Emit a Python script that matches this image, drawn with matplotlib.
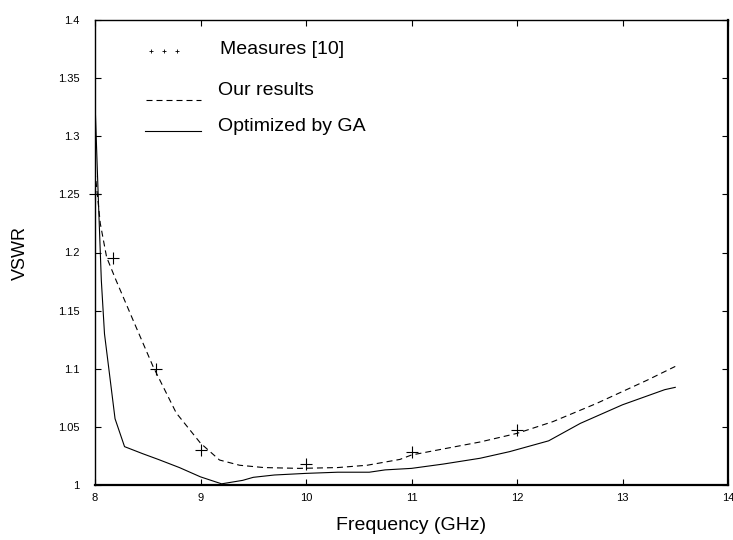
import matplotlib
matplotlib.use("Agg")
import matplotlib.pyplot as plt

plt.rcParams['font.family'] = ['Liberation Sans', 'DejaVu Sans']

# Measures [10]
meas_x = [8.0, 8.17, 8.58, 9.0, 10.0, 11.0, 12.0]
meas_y = [1.25, 1.195, 1.10, 1.03, 1.018, 1.028, 1.047]

# Our results (dashed)
ours_x = [8.0, 8.05, 8.11, 8.2, 8.28, 8.36, 8.55, 8.77, 9.0, 9.18, 9.37, 9.6,
          9.94, 10.3, 10.58, 10.89, 11.0, 11.3, 11.65, 12.0, 12.34, 12.75, 13.23, 13.5]
ours_y = [1.27, 1.225, 1.196, 1.176, 1.159, 1.142, 1.102, 1.062, 1.036, 1.0215, 1.017, 1.015,
          1.0143, 1.015, 1.017, 1.022, 1.0258, 1.031, 1.037, 1.0444, 1.0545, 1.070, 1.090, 1.102]

# Optimized by GA (solid)
ga_x = [8.0, 8.03, 8.06, 8.09, 8.19, 8.28, 8.45, 8.6, 8.8, 9.0, 9.2, 9.4, 9.5, 9.7,
        10.0, 10.3, 10.6, 10.75, 11.0, 11.3, 11.65, 11.93, 12.3, 12.6, 13.0, 13.4, 13.5]
ga_y = [1.33, 1.25, 1.176, 1.130, 1.057, 1.033, 1.027, 1.022, 1.015, 1.007, 1.001, 1.004, 1.0066, 1.0086,
        1.010, 1.011, 1.011, 1.013, 1.0143, 1.018, 1.023, 1.0287, 1.038, 1.053, 1.069, 1.082, 1.084]

x_ticks = [8, 9, 10, 11, 12, 13, 14]
y_ticks = [1, 1.05, 1.1, 1.15, 1.2, 1.25, 1.3, 1.35, 1.4]
y_tick_labels = ['1', '1.05', '1.1', '1.15', '1.2', '1.25', '1.3', '1.35', '1.4']

legend_labels = ['Measures [10]', 'Our results', 'Optimized by GA']

fig = plt.figure(figsize=(7.33, 5.4), dpi=100)
ax = fig.add_axes([95/733, 1-485/540, 633/733, 465/540])

dash = (0, (5.4, 3.6))
ax.plot(ga_x, ga_y, color='black', lw=0.8)
ax.plot(ours_x, ours_y, color='black', lw=0.8, linestyle=dash)
ax.plot(meas_x, meas_y, linestyle='none', marker='+', markersize=8, markeredgewidth=0.8, color='black', clip_on=False)

ax.set_xlim(8, 14)
ax.set_ylim(1, 1.4)
ax.set_xticks(x_ticks)
ax.set_yticks(y_ticks)
ax.set_yticklabels(y_tick_labels)
ax.tick_params(direction='in', length=4.5, width=0.8, labelsize=8, top=True, right=True,
               labeltop=False, labelright=False)
ax.tick_params(axis='y', pad=11)
ax.tick_params(axis='x', pad=6)
for s in ['left', 'top']:
    ax.spines[s].set_linewidth(1.0)
for s in ['bottom', 'right']:
    ax.spines[s].set_linewidth(1.6)

ax.set_xlabel('Frequency (GHz)', fontsize=14)
ax.xaxis.set_label_coords(0.5, -0.068)
ax.set_ylabel('VSWR', fontsize=13)
ax.yaxis.set_label_coords(-0.104, 0.5)

# manual legend
T = ax.transAxes
ax.plot([0.088, 0.109, 0.130], [0.934, 0.934, 0.934], transform=T, linestyle='none',
        marker='+', markersize=3.5, markeredgewidth=0.6, color='black')
ax.text(0.197, 0.936, legend_labels[0], transform=T, fontsize=14, va='center', ha='left')
ax.plot([0.081, 0.168], [0.828, 0.828], transform=T, color='black', lw=0.8, linestyle=dash)
ax.text(0.195, 0.849, legend_labels[1], transform=T, fontsize=14, va='center', ha='left')
ax.plot([0.079, 0.168], [0.761, 0.761], transform=T, color='black', lw=0.8)
ax.text(0.194, 0.772, legend_labels[2], transform=T, fontsize=14, va='center', ha='left')

fig.savefig('out.png', dpi=100)
